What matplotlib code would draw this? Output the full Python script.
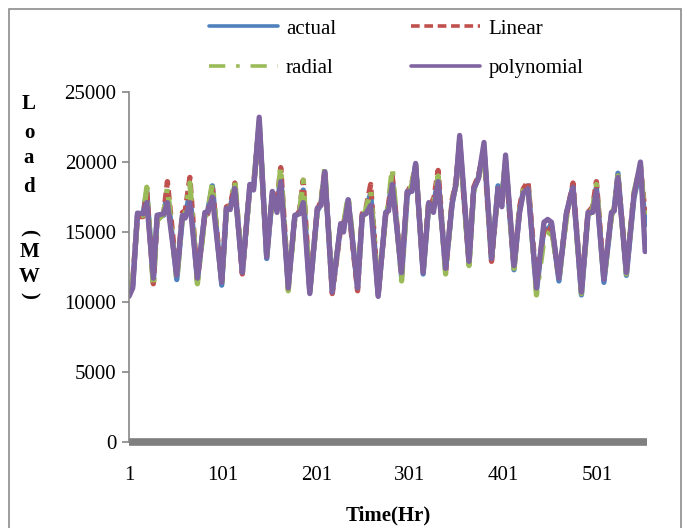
import matplotlib
matplotlib.use('Agg')
import matplotlib.pyplot as plt
from matplotlib.patches import Rectangle

plt.rcParams['font.family'] = 'Liberation Serif'

# hourly load, key points read per day (hour, MW)
hours = [1, 5, 10, 16, 20, 27, 31, 38, 42, 52, 58, 61, 66, 74, 82, 85, 90, 100,
         105, 109, 114, 122, 130, 134, 140, 148, 154, 159, 163, 171, 178, 183,
         187, 194, 202, 206, 210, 218, 227, 230, 235, 245, 250, 254, 259, 267,
         275, 278, 282, 292, 298, 303, 307, 315, 321, 326, 331, 339, 346, 350,
         354, 364, 369, 374, 380, 388, 395, 399, 403, 412, 418, 422, 427, 436,
         444, 448, 452, 460, 468, 475, 484, 491, 496, 500, 508, 516, 519, 523,
         532, 540, 547, 552]

actual = [10500, 11200, 16200, 16300, 17900, 11500, 16000, 16200, 17900, 11600,
          16000, 16200, 17800, 11500, 16300, 16500, 18300, 11200, 16600, 16700,
          18300, 12100, 18200, 18200, 22800, 13100, 17600, 16700, 19000, 11100,
          16100, 16400, 18000, 10700, 16500, 17000, 19300, 10800, 15500, 15300,
          17300, 11000, 16100, 16500, 17800, 10500, 16300, 16700, 18900, 11800,
          17600, 18200, 19800, 12000, 16900, 16800, 18900, 12300, 17000, 18400,
          21500, 12700, 18000, 18900, 21000, 13000, 18300, 17300, 20100, 12300,
          16600, 17900, 18300, 10800, 15300, 15100, 15600, 11500, 16300, 18300,
          10500, 16200, 16600, 18200, 11400, 16200, 16700, 19200, 11900, 17400,
          19600, 15500]

linear = [10800, 11500, 16100, 16100, 17800, 11300, 15900, 16300, 18600, 11900,
          16400, 16500, 18900, 11600, 16200, 16300, 18200, 11500, 16800, 16900,
          18500, 12000, 18300, 18400, 22600, 13400, 17700, 17200, 19600, 11300,
          16000, 16500, 18700, 10900, 16600, 17200, 19400, 10600, 15300, 15600,
          17000, 10800, 16300, 16700, 18400, 10600, 16200, 16900, 19000, 12000,
          17800, 18500, 19700, 12300, 17300, 17200, 19400, 12200, 17300, 18600,
          21300, 12800, 18200, 19000, 20800, 12900, 18100, 17100, 20000, 12500,
          16800, 18100, 18600, 11300, 15200, 14900, 15400, 11800, 16200, 18500,
          10800, 16400, 16800, 18600, 11800, 16300, 16600, 19000, 12200, 17700,
          19700, 16300]

radial = [10900, 11600, 16000, 16200, 18200, 11000, 15800, 16300, 18200, 11500,
          16100, 16300, 18500, 11300, 16100, 16400, 18500, 11300, 16500, 16800,
          18700, 12300, 18100, 18300, 22900, 13300, 17500, 16900, 19700, 10800,
          16000, 16300, 18700, 10800, 16400, 17100, 19600, 10900, 15400, 15500,
          17600, 11200, 16000, 16600, 18000, 10700, 16100, 17000, 19600, 11500,
          17500, 18400, 19900, 12200, 17000, 16900, 19000, 12000, 17200, 18300,
          21600, 12600, 17900, 18700, 21100, 13200, 18000, 17400, 20200, 12400,
          16500, 18000, 18400, 10500, 14500, 14800, 15300, 11600, 16000, 18100,
          10600, 16100, 16700, 18400, 11500, 16100, 16800, 19000, 12000, 17800,
          19800, 15800]

polynomial = [10400, 11000, 16350, 16300, 17100, 11700, 16200, 16300, 17100, 11900,
              16200, 16000, 17100, 11700, 16400, 16400, 17500, 11400, 16700, 16600,
              18100, 12100, 18400, 18000, 23200, 13200, 17900, 16400, 18600, 11000,
              16200, 16300, 17100, 10600, 16700, 16900, 19300, 10700, 15600, 15000,
              17300, 11000, 16200, 16300, 16900, 10400, 16400, 16500, 18400, 12100,
              17900, 17900, 19900, 12100, 17100, 16400, 18600, 12400, 17100, 18400,
              21900, 12900, 18100, 18800, 21400, 13100, 18100, 16800, 20500, 12600,
              16400, 17800, 18100, 11000, 15700, 15900, 15700, 11700, 16400, 18200,
              10700, 16400, 16400, 17900, 11600, 16400, 16500, 18900, 12100, 17600,
              20000, 13600]

fig = plt.figure(figsize=(6.84, 5.28), dpi=100)
ax = fig.add_axes([129 / 684, 1 - 442 / 528, (647 - 129) / 684, 350 / 528])

lw = 3.8
l_act, = ax.plot(hours, actual, color='#4F81BD', lw=lw, label='actual',
                 solid_joinstyle='round', solid_capstyle='round')
l_lin, = ax.plot(hours, linear, color='#C0504D', lw=lw, label='Linear',
                 dashes=(1.8, 1.0), dash_capstyle='butt', dash_joinstyle='round')
l_rad, = ax.plot(hours, radial, color='#9BBB59', lw=lw, label='radial',
                 dashes=(3.5, 2.2, 0.8, 2.2), dash_capstyle='butt',
                 dash_joinstyle='round')
l_pol, = ax.plot(hours, polynomial, color='#8064A2', lw=lw, label='polynomial',
                 solid_joinstyle='round', solid_capstyle='round')

# thick category axis at zero
ax.axhline(0, color='#7F7F7F', lw=5.5, solid_capstyle='butt', clip_on=False)

ax.set_xlim(1, 554)
ax.set_ylim(0, 25000)
ax.set_xticks([1, 101, 201, 301, 401, 501])
ax.set_yticks(range(0, 25001, 5000))
for s in ['top', 'right', 'bottom']:
    ax.spines[s].set_visible(False)
ax.spines['left'].set_color('#868686')
ax.spines['left'].set_linewidth(1.2)
ax.tick_params(axis='y', length=5, width=1.2, color='#868686', labelsize=15, pad=4)
ax.tick_params(axis='x', length=0, labelsize=15, pad=17)

ax.set_xlabel('Time(Hr)', fontsize=15, fontweight='bold', labelpad=15)

# stacked vertical axis title
ylab = [('L', 104, 0), ('o', 133, 0), ('a', 158, 0), ('d', 187, 0),
        ('(', 232, -90), ('M', 252, 0), ('W', 277, 0), (')', 295, -90)]
for ch, ypix, rot in ylab:
    fig.text(29 / 684, 1 - ypix / 528, ch, fontsize=15, fontweight='bold',
             ha='center', va='center', rotation=rot)

# legend filled row by row: actual, Linear / radial, polynomial
leg = fig.legend([l_act, l_rad, l_lin, l_pol], ['actual', 'radial', 'Linear', 'polynomial'],
                 loc='upper left', bbox_to_anchor=(209 / 684, 1 - 19 / 528), ncol=2,
                 frameon=False, fontsize=15, handlelength=3.3, handletextpad=0.4,
                 columnspacing=3.6, labelspacing=0.95, borderpad=0, borderaxespad=0)
h_act, h_rad, h_lin, h_pol = leg.legend_handles
for h in leg.legend_handles:
    h.set_linewidth(2.6)
h_lin.set_dashes((2.4, 1.3))
h_rad.set_dashes((4.5, 3.0, 1.0, 3.0))

# outer chart border
fig.patches.append(Rectangle((9 / 684, -0.05), 672 / 684, 1.05 - 9 / 528,
                             transform=fig.transFigure, fill=False,
                             edgecolor='#8C8C8C', lw=1.2))

fig.savefig('out.png', dpi=100)
